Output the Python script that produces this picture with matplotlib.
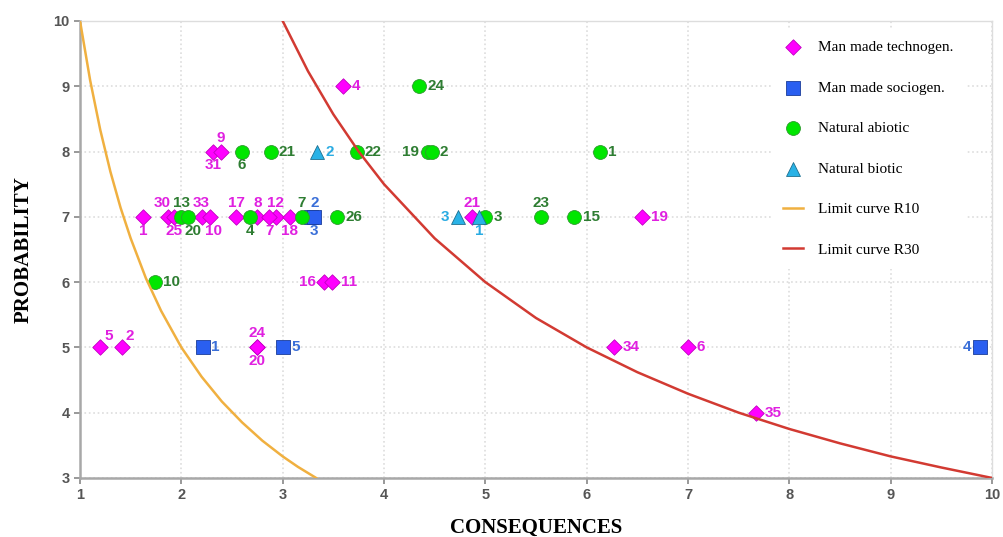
import numpy as np
import matplotlib
matplotlib.use("Agg")
import matplotlib.pyplot as plt

# ---- data ----
# Man made technogen.
tech_x = [1.62, 1.87, 1.93, 2.20, 2.28, 2.54, 2.75, 2.93, 2.87, 3.07, 2.31, 2.39, 3.60,
          4.87, 6.55, 3.41, 3.49, 1.20, 1.41, 2.75, 2.75, 6.27, 7.00, 7.67]
tech_y = [7, 7, 7, 7, 7, 7, 7, 7, 7, 7, 8, 8, 9, 7, 7, 6, 6, 5, 5, 5, 5, 5, 5, 4]
tech_lab = ["1", "30", "25", "33", "10", "17", "8", "12", "7", "18", "31", "9", "4",
            "21", "19", "16", "11", "5", "2", "24", "20", "34", "6", "35"]
tech_pos = ["b", "al", "b", "a", "br", "a", "a", "a", "b", "b", "b", "a", "r",
            "a", "r", "l", "r", "ur", "ur", "a", "b", "r", "r", "r"]

# Man made sociogen.
socio_x = [3.28, 3.31, 2.21, 3.00, 9.88]
socio_y = [7, 7, 5, 5, 5]
socio_lab = ["2", "3", "1", "5", "4"]
socio_pos = ["ar", "b", "r", "r", "l"]

# Natural abiotic
abio_x = [2.00, 2.07, 2.68, 3.19, 3.54, 2.60, 2.88, 3.73, 4.43, 4.47, 6.13, 4.35,
          5.00, 5.55, 5.88, 1.74]
abio_y = [7, 7, 7, 7, 7, 8, 8, 8, 8, 8, 8, 9, 7, 7, 7, 6]
abio_lab = ["13", "20", "4", "7", "26", "6", "21", "22", "19", "2", "1", "24",
            "3", "23", "15", "10"]
abio_pos = ["a", "br", "b", "a", "r", "b", "r", "r", "l", "r", "r", "r",
            "r", "a", "r", "r"]

# Natural biotic
bio_x = [3.34, 4.73, 4.94]
bio_y = [8, 7, 7]
bio_lab = ["2", "3", "1"]
bio_pos = ["r", "l", "b"]

# limit curves
r10_x = [1.0, 1.1, 1.2, 1.3, 1.4, 1.5, 1.65, 1.8, 2.0, 2.2, 2.4, 2.6, 2.8, 3.0, 3.15, 3.33]
r10_y = [10.0, 9.09, 8.33, 7.69, 7.14, 6.67, 6.06, 5.56, 5.0, 4.55, 4.17, 3.85, 3.57, 3.33, 3.17, 3.0]
r30_x = [3.0, 3.25, 3.5, 3.75, 4.0, 4.5, 5.0, 5.5, 6.0, 6.5, 7.0, 7.5, 8.0, 8.5, 9.0, 9.5, 10.0]
r30_y = [10.0, 9.23, 8.57, 8.0, 7.5, 6.67, 6.0, 5.45, 5.0, 4.62, 4.29, 4.0, 3.75, 3.53, 3.33, 3.16, 3.0]

fig = plt.figure(figsize=(10.04, 5.37), dpi=100)
ax = fig.add_axes([0.0797, 0.110, 0.9083, 0.851])

offsets = {"r": ((6, 0), "left", "center"), "l": ((-6, 0), "right", "center"),
           "a": ((0, 5), "center", "bottom"), "b": ((0, -5), "center", "top"),
           "al": ((-4, 5), "center", "bottom"), "br": ((3, -5), "center", "top"),
           "ar": ((3, 5), "center", "bottom"), "ur": ((3, 3), "left", "bottom")}


def put_labels(xs, ys, labs, poss, col):
    for x, y, t, p in zip(xs, ys, labs, poss):
        off, ha, va = offsets[p]
        ax.annotate(t, (x, y), xytext=off, textcoords="offset points",
                    ha=ha, va=va, color=col, fontsize=11, fontweight="bold",
                    family="Liberation Sans", zorder=5)


ax.scatter(tech_x, tech_y, marker="D", s=62, c="#ff00ff", edgecolors="#c000c0",
           linewidths=0.6, zorder=3, label="Man made technogen.")
ax.scatter(socio_x, socio_y, marker="s", s=95, c="#2a5ff0", edgecolors="#1b3d9a",
           linewidths=0.6, zorder=3, label="Man made sociogen.")
ax.scatter(abio_x, abio_y, marker="o", s=100, c="#00e600", edgecolors="#2f9a2f",
           linewidths=0.6, zorder=3, label="Natural abiotic")
ax.scatter(bio_x, bio_y, marker="^", s=100, c="#29b2e6", edgecolors="#1d6f8f",
           linewidths=0.6, zorder=3, label="Natural biotic")
ax.plot(r10_x, r10_y, color="#f0b040", lw=1.8, zorder=4, label="Limit curve R10")
ax.plot(r30_x, r30_y, color="#d23a32", lw=1.8, zorder=4, label="Limit curve R30")

put_labels(tech_x, tech_y, tech_lab, tech_pos, "#e020e0")
put_labels(socio_x, socio_y, socio_lab, socio_pos, "#3a6fd8")
put_labels(abio_x, abio_y, abio_lab, abio_pos, "#2e7d32")
put_labels(bio_x, bio_y, bio_lab, bio_pos, "#29abe2")

ax.set_xlim(1, 10)
ax.set_ylim(3, 10)
ax.set_xticks(range(1, 11))
ax.set_yticks(range(3, 11))
ax.grid(True, color="#dddddd", linestyle=":", linewidth=1.2, zorder=0)
ax.set_axisbelow(True)
ax.tick_params(colors="#888888", labelcolor="#555555", length=4, width=1.2,
               labelsize=10.5)
for lab in ax.get_xticklabels() + ax.get_yticklabels():
    lab.set_fontweight("bold")
    lab.set_family("Liberation Sans")
for s in ["left", "bottom"]:
    ax.spines[s].set_color("#a8a8a8")
    ax.spines[s].set_linewidth(1.8)
for s in ["top", "right"]:
    ax.spines[s].set_color("#dddddd")
    ax.spines[s].set_linewidth(1.0)

ax.set_xlabel("CONSEQUENCES", family="Liberation Serif", fontweight="bold",
              fontsize=15, labelpad=11)
ax.set_ylabel("PROBABILITY", family="Liberation Serif", fontweight="bold",
              fontsize=15, labelpad=14)

leg = ax.legend(loc="upper right", bbox_to_anchor=(0.98, 1.0), frameon=True,
                facecolor="white", edgecolor="none", framealpha=1,
                prop={"family": "Liberation Serif", "size": 11},
                labelspacing=1.75, handlelength=1.3, handletextpad=1.0,
                borderpad=0.8, markerscale=1.0)
leg.set_zorder(6)

fig.savefig("out.png", dpi=100)
